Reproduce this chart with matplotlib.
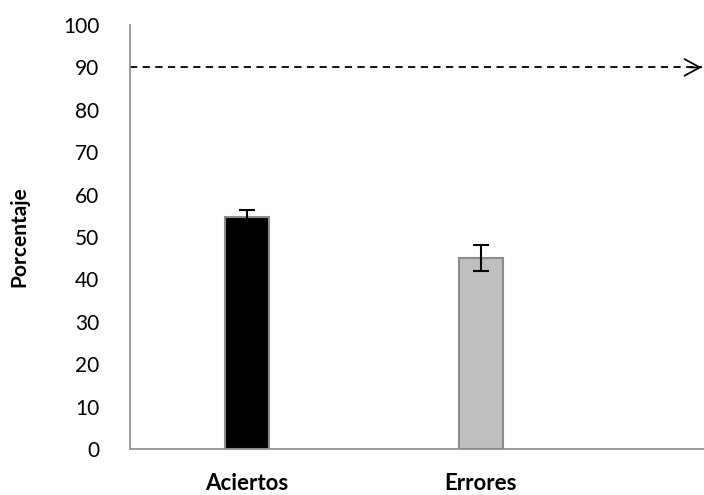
import numpy as np
import matplotlib.pyplot as plt

categories = ['Aciertos', 'Errores']
values = [54.8, 45.0]
errors = [1.6, 3.0]
bar_colors = ['#000000', '#bfbfbf']
reference_level = 90
y_ticks = list(range(0, 101, 10))

plt.rcParams['font.family'] = ['Lato', 'DejaVu Sans']

fig = plt.figure(figsize=(7.04, 4.95), dpi=100)
ax = fig.add_axes([0.1847, 0.0929, 0.8153, 0.8566])

x = np.arange(len(categories))
ax.bar(x, values, width=0.19, color=bar_colors, edgecolor='#8c8c8c', linewidth=1.5,
       yerr=errors, error_kw=dict(ecolor='black', elinewidth=1.5, capsize=6, capthick=1.5))

ax.set_xlim(-0.5, 1.955)
ax.set_ylim(0, 100)
ax.set_yticks(y_ticks)
ax.set_xticks(x)
ax.set_xticklabels(categories, fontsize=16, fontweight='bold')
ax.tick_params(axis='y', length=0, labelsize=15, pad=22)
ax.tick_params(axis='x', length=0, pad=17)

# dashed reference line with an open, solid arrow head
tip = 1.945
ax.plot([-0.5, tip], [reference_level, reference_level], color='black', lw=1.3,
        linestyle=(0, (4, 3)), clip_on=False)
ax.annotate('', xy=(tip, reference_level), xytext=(tip - 0.05, reference_level),
            arrowprops=dict(arrowstyle='->,head_length=1.1,head_width=0.6',
                            color='black', lw=1.3, shrinkA=0, shrinkB=0),
            annotation_clip=False)

ax.set_ylabel('Porcentaje', fontsize=15, fontweight='bold', labelpad=24)

for s in ['top', 'right']:
    ax.spines[s].set_visible(False)
for s in ['left', 'bottom']:
    ax.spines[s].set_color('#8c8c8c')
    ax.spines[s].set_linewidth(1.2)

fig.savefig('out.png', dpi=100)
